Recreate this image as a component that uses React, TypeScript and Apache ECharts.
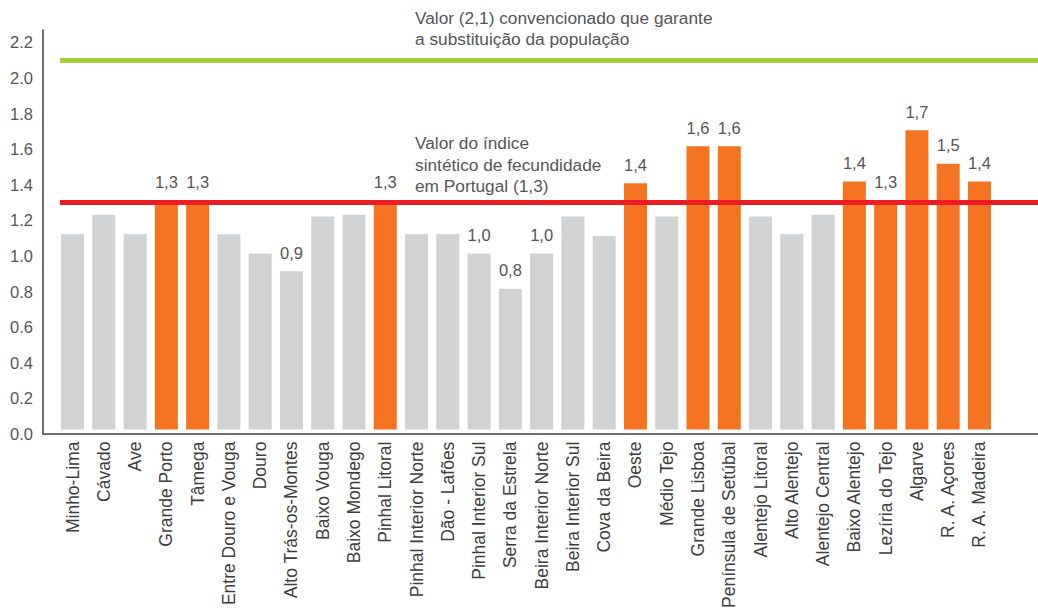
import React, { useEffect, useRef } from "react";
import * as echarts from "echarts";

const categories = [
  "Minho-Lima", "Cávado", "Ave", "Grande Porto", "Tâmega", "Entre Douro e Vouga",
  "Douro", "Alto Trás-os-Montes", "Baixo Vouga", "Baixo Mondego", "Pinhal Litoral",
  "Pinhal Interior Norte", "Dão - Lafões", "Pinhal Interior Sul", "Serra da Estrela",
  "Beira Interior Norte", "Beira Interior Sul", "Cova da Beira", "Oeste", "Médio Tejo",
  "Grande Lisboa", "Península de Setúbal", "Alentejo Litoral", "Alto Alentejo",
  "Alentejo Central", "Baixo Alentejo", "Lezíria do Tejo", "Algarve", "R. A. Açores",
  "R. A. Madeira",
];

const values = [
  1.11, 1.22, 1.11, 1.3, 1.3, 1.11, 1.0, 0.9, 1.21, 1.22, 1.3, 1.11, 1.11, 1.0, 0.8,
  1.0, 1.21, 1.1, 1.4, 1.21, 1.61, 1.61, 1.21, 1.11, 1.22, 1.41, 1.3, 1.7, 1.51, 1.41,
];

const highlighted = [
  "Grande Porto", "Tâmega", "Pinhal Litoral", "Oeste", "Grande Lisboa",
  "Península de Setúbal", "Baixo Alentejo", "Lezíria do Tejo", "Algarve",
  "R. A. Açores", "R. A. Madeira",
];

const labelledLow = [
  "Alto Trás-os-Montes", "Pinhal Interior Sul", "Serra da Estrela", "Beira Interior Norte",
];

const yTicks = [0, 0.2, 0.4, 0.6, 0.8, 1.0, 1.2, 1.4, 1.6, 1.8, 2.0, 2.2];

const REPLACEMENT_LEVEL = 2.1;
const PORTUGAL_LEVEL = 1.3;

const replacementNote = ["Valor (2,1) convencionado que garante", "a substituição da população"];
const portugalNote = ["Valor do índice", "sintético de fecundidade", "em Portugal (1,3)"];

const FONT = "'Liberation Sans', Arial, Helvetica, sans-serif";
const GREY_BAR = "#d1d2d4";
const ORANGE = "#f37321";
const GREEN = "#a5cd39";
const RED = "#ec1c24";
const TEXT = "#555555";

export default function App() {
  const ref = useRef<HTMLDivElement>(null);

  useEffect(() => {
    if (!ref.current) return;
    const chart = echarts.init(ref.current, undefined, { renderer: "svg" });
    const yMax = 2.27;

    const data = categories.map((name, i) => {
      const hi = highlighted.includes(name);
      const lab = hi || labelledLow.includes(name);
      return {
        value: values[i],
        itemStyle: { color: hi ? ORANGE : GREY_BAR },
        label: { show: lab },
      };
    });

    chart.setOption({
      animation: false,
      backgroundColor: "#ffffff",
      textStyle: { fontFamily: FONT },
      grid: [
        { left: 56.9, right: 42.9, top: 30, bottom: 177, containLabel: false },
        { left: 43, right: 0, top: 30, bottom: 177, containLabel: false },
      ],
      xAxis: [
        {
          type: "category",
          gridIndex: 0,
          data: categories,
          axisLine: { show: false },
          axisTick: { show: false },
          axisLabel: {
            interval: 0,
            rotate: 90,
            margin: 12,
            fontSize: 17.5,
            color: "#3d3d3d",
            fontFamily: FONT,
          },
        },
        {
          type: "value",
          gridIndex: 1,
          min: 0,
          max: 1,
          axisLine: { show: true, lineStyle: { color: "#6d6d6d", width: 2 } },
          axisTick: { show: false },
          axisLabel: { show: false },
          splitLine: { show: false },
        },
      ],
      yAxis: [
        {
          type: "value",
          gridIndex: 0,
          min: 0,
          max: yMax,
          interval: 0.2,
          show: false,
          splitLine: { show: false },
        },
        {
          type: "value",
          gridIndex: 1,
          min: 0,
          max: yMax,
          interval: 0.2,
          axisLine: { show: true, lineStyle: { color: "#6d6d6d", width: 2 } },
          axisTick: { show: false },
          splitLine: { show: false },
          axisLabel: {
            showMaxLabel: false,
            margin: 10,
            fontSize: 16.5,
            color: TEXT,
            fontFamily: FONT,
            formatter: (v: number) =>
              yTicks.some((t) => Math.abs(t - v) < 1e-6) ? v.toFixed(1) : "",
          },
        },
      ],
      series: [
        {
          type: "bar",
          xAxisIndex: 0,
          yAxisIndex: 0,
          data,
          barWidth: 23,
          label: {
            position: "top",
            distance: 10,
            fontSize: 16.5,
            color: TEXT,
            fontFamily: FONT,
            formatter: (p: any) => Number(p.value).toFixed(1).replace(".", ","),
          },
          z: 2,
        },
        {
          type: "scatter",
          xAxisIndex: 1,
          yAxisIndex: 1,
          data: [],
          z: 3,
          markLine: {
            silent: true,
            symbol: ["none", "none"],
            label: { show: false },
            data: [
              [
                { coord: [0.017, REPLACEMENT_LEVEL], lineStyle: { color: GREEN, width: 5, type: "solid" } },
                { coord: [1, REPLACEMENT_LEVEL] },
              ],
              [
                { coord: [0.017, PORTUGAL_LEVEL], lineStyle: { color: RED, width: 5, type: "solid" } },
                { coord: [1, PORTUGAL_LEVEL] },
              ],
            ],
          },
        },
      ],
      graphic: [
        {
          type: "text",
          left: 415,
          top: 8,
          style: {
            text: replacementNote.join("\n"),
            font: `17.3px ${FONT}`,
            fill: TEXT,
            lineHeight: 20.5,
          },
        },
        {
          type: "text",
          left: 415,
          top: 132,
          style: {
            text: portugalNote.join("\n"),
            font: `17.3px ${FONT}`,
            fill: TEXT,
            lineHeight: 21.7,
          },
        },
      ],
    });

    return () => chart.dispose();
  }, []);

  return (
    <div
      ref={ref}
      style={{ position: "fixed", left: 0, top: 0, width: 1038, height: 611, background: "#fff" }}
    />
  );
}
